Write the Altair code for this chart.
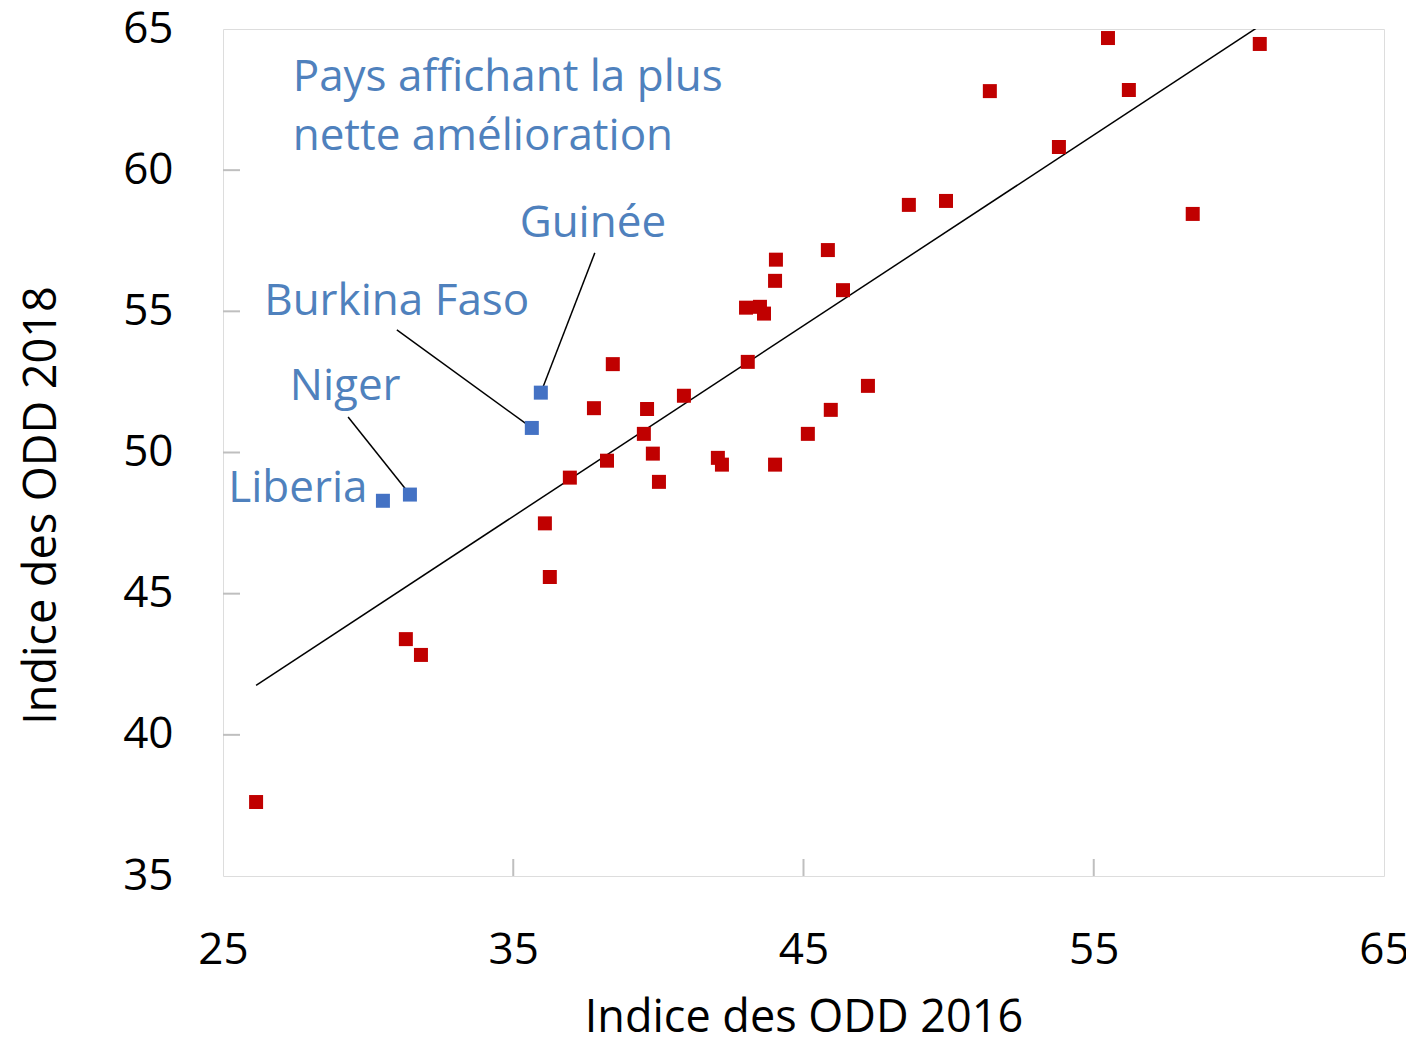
import altair as alt
import pandas as pd

# ---- data ----
red_x = [26.14, 31.30, 31.82, 36.09, 36.26, 36.95, 37.78, 38.23, 38.43, 39.50,
         39.61, 39.81, 40.02, 40.88, 42.05, 42.19, 43.02, 43.08, 43.50, 43.64,
         44.02, 44.05, 44.02, 45.15, 45.84, 45.94, 46.36, 47.22, 48.63, 49.91,
         51.42, 53.80, 55.49, 56.21, 58.41, 60.72]
red_y = [37.62, 43.39, 42.83, 47.49, 45.59, 49.11, 51.57, 49.71, 53.13, 50.66,
         51.54, 49.96, 48.96, 52.01, 49.81, 49.57, 55.13, 53.21, 55.16, 54.92,
         56.08, 56.83, 49.57, 50.66, 57.17, 51.51, 55.75, 52.36, 58.77, 58.91,
         62.80, 60.82, 64.68, 62.84, 58.45, 64.47]

blue_names = ["Liberia", "Niger", "Burkina Faso", "Guinée"]
blue_x = [30.51, 31.44, 35.64, 35.95]
blue_y = [48.29, 48.51, 50.87, 52.12]

# label anchors (left edge / baseline, data units)
label_text = ["Liberia", "Niger", "Burkina Faso", "Guinée",
              "Pays affichant la plus", "nette amélioration"]
label_x = [25.18, 27.30, 26.42, 35.22, 27.40, 27.40]
label_y = [48.26, 51.86, 54.87, 57.63, 62.79, 60.72]

# leader lines: from label end to country point
leader_x = [29.31, 30.99, 37.81]
leader_y = [51.26, 54.34, 57.07]
leader_x2 = [31.44, 35.64, 35.95]
leader_y2 = [48.51, 50.87, 52.12]

x_ticks = [25, 35, 45, 55, 65]
y_ticks = [35, 40, 45, 50, 55, 60, 65]
x_inner_ticks = [35, 45, 55]
y_inner_ticks = [40, 45, 50, 55, 60]

W, H = 1161, 847
FONT = "Open Sans"
FS = 44
BLUE_TXT = "#4F81BD"
GRAY = "#BFBFBF"

pts = pd.DataFrame({
    "x": red_x + blue_x,
    "y": red_y + blue_y,
    "grp": ["autre"] * len(red_x) + ["amélioration"] * len(blue_x),
})
labels = pd.DataFrame({"t": label_text, "x": label_x, "y": label_y})
leaders = pd.DataFrame({"x": leader_x, "y": leader_y, "x2": leader_x2, "y2": leader_y2})
xt = pd.DataFrame({"v": x_inner_ticks})
yt = pd.DataFrame({"v": y_inner_ticks})

xs = alt.Scale(domain=[25, 65], nice=False, zero=False)
ys = alt.Scale(domain=[35, 65], nice=False, zero=False)

x_axis = alt.Axis(values=x_ticks, ticks=False, tickSize=0, domain=False, grid=False,
                  labelFont=FONT, labelFontSize=FS, labelColor="black", labelFlush=False,
                  labelBaseline="alphabetic", labelPadding=87,
                  title="Indice des ODD 2016", titleFont=FONT, titleFontSize=45,
                  titleFontWeight="normal", titleColor="black",
                  titleX=W / 2, titleY=155, titleBaseline="alphabetic", titleAlign="center")
y_axis = alt.Axis(values=y_ticks, ticks=False, tickSize=0, domain=False, grid=False,
                  labelFont=FONT, labelFontSize=FS, labelColor="black", labelFlush=False,
                  labelPadding=50, labelBaseline="middle",
                  title="Indice des ODD 2018", titleFont=FONT, titleFontSize=45,
                  titleFontWeight="normal", titleColor="black", titleAngle=270,
                  titleX=-168, titleY=476, titleBaseline="alphabetic", titleAlign="center")

base = alt.Chart(pts)

points = base.mark_square(size=196, opacity=1).encode(
    x=alt.X("x:Q", scale=xs, axis=x_axis),
    y=alt.Y("y:Q", scale=ys, axis=y_axis),
    color=alt.Color("grp:N", scale=alt.Scale(domain=["autre", "amélioration"],
                                             range=["#C00000", "#4472C4"]), legend=None),
)

trend = base.transform_regression("x", "y", extent=[26.14, 60.72]).mark_line(
    color="black", strokeWidth=1.5, clip=True
).encode(x=alt.X("x:Q", scale=xs), y=alt.Y("y:Q", scale=ys))

lead = alt.Chart(leaders).mark_rule(color="black", strokeWidth=1.5).encode(
    x=alt.X("x:Q", scale=xs), y=alt.Y("y:Q", scale=ys), x2="x2:Q", y2="y2:Q")

txt = alt.Chart(labels).mark_text(align="left", baseline="alphabetic", font=FONT,
                                  fontSize=FS, color=BLUE_TXT).encode(
    x=alt.X("x:Q", scale=xs), y=alt.Y("y:Q", scale=ys), text="t:N")

xtick = alt.Chart(xt).mark_rule(color=GRAY, strokeWidth=2).encode(
    x=alt.X("v:Q", scale=xs), y=alt.value(H), y2=alt.value(H - 17))
ytick = alt.Chart(yt).mark_rule(color=GRAY, strokeWidth=2).encode(
    y=alt.Y("v:Q", scale=ys), x=alt.value(0), x2=alt.value(17))

chart = alt.layer(xtick, ytick, trend, lead, points, txt).properties(
    width=W, height=H,
    autosize=alt.AutoSizeParams(type="none"),
    padding={"left": 215, "top": 21, "right": 22, "bottom": 156},
).configure_view(stroke=GRAY, strokeWidth=2).configure(background="white")

chart.save("out.html", embed_options={"renderer": "svg", "actions": False})
